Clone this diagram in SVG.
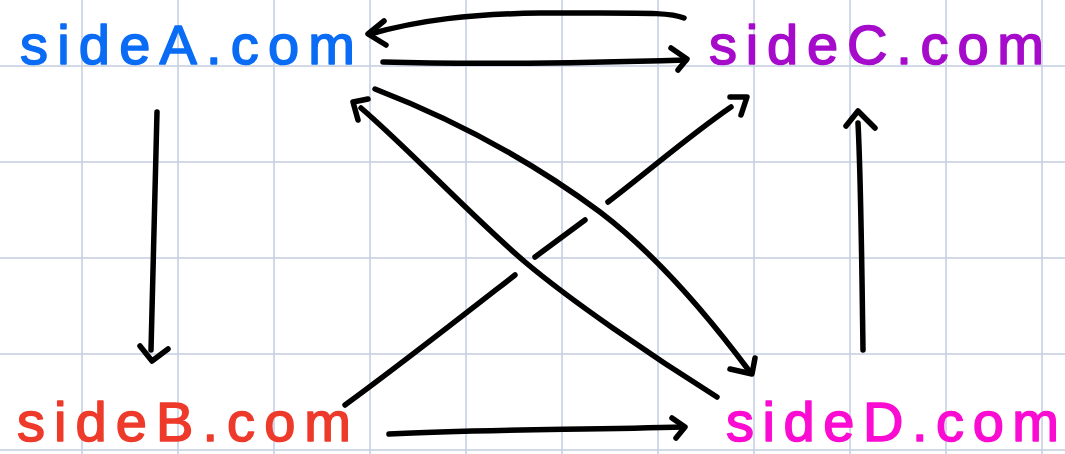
<svg xmlns="http://www.w3.org/2000/svg" width="1065" height="454" viewBox="0 0 1065 454">
<style>
.grid line{stroke:#c3cee2;stroke-width:1.5}
.lbl{font-family:"Liberation Sans","Noto Sans",sans-serif;font-size:56px;stroke-width:1.6;stroke-linejoin:round}
.c path{fill:none;stroke:#000;stroke-width:5.5;stroke-linecap:round;stroke-linejoin:round}
</style>
<rect width="1065" height="454" fill="#fff"/>
<g class="grid">
<line x1="82" y1="0" x2="82" y2="454"/><line x1="178" y1="0" x2="178" y2="454"/><line x1="274" y1="0" x2="274" y2="454"/><line x1="370" y1="0" x2="370" y2="454"/><line x1="466" y1="0" x2="466" y2="454"/><line x1="562" y1="0" x2="562" y2="454"/><line x1="658" y1="0" x2="658" y2="454"/><line x1="754" y1="0" x2="754" y2="454"/><line x1="850" y1="0" x2="850" y2="454"/><line x1="946" y1="0" x2="946" y2="454"/><line x1="1042" y1="0" x2="1042" y2="454"/>
<line x1="0" y1="66" x2="1065" y2="66"/><line x1="0" y1="162" x2="1065" y2="162"/><line x1="0" y1="258" x2="1065" y2="258"/><line x1="0" y1="354" x2="1065" y2="354"/><line x1="0" y1="450" x2="1065" y2="450"/>
</g>
<g id="sideA"><text class="lbl" x="20" y="64" textLength="335" lengthAdjust="spacing" fill="#0a6cf5" stroke="#0a6cf5">sideA.com</text></g>
<g id="sideC"><text class="lbl" x="709" y="64" textLength="335" lengthAdjust="spacing" fill="#a60bcb" stroke="#a60bcb">sideC.com</text></g>
<g id="sideB"><text class="lbl" x="17" y="441" textLength="334" lengthAdjust="spacing" fill="#ee3a2b" stroke="#ee3a2b">sideB.com</text></g>
<g id="sideD"><text class="lbl" x="726" y="441" textLength="333" lengthAdjust="spacing" fill="#fb0cd2" stroke="#fb0cd2">sideD.com</text></g>
<g id="connectors" class="c">
<path d="M684,18 C672,13 650,13 600,13 L540,13 C470,14 420,20 370,34"/>
<path d="M384,21 L368,34 L386,45"/>
<path d="M383,62 C450,64 550,64 686,60"/>
<path d="M671,48 L687,59 L678,70"/>
<path d="M375,89 C450,118 530,160 600,212 C650,250 700,305 750,372"/>
<path d="M730,369 L752,374 L755,358"/>
<path d="M717,397 C650,355 570,300 525,262 C470,215 410,150 361,108"/>
<path d="M358,120 L353,102 L368,99"/>
<path d="M345,405 C400,365 470,310 515,275"/>
<path d="M535,257 L585,220"/>
<path d="M608,202 C650,170 690,135 731,107"/>
<path d="M730,97 L747,97 L741,115"/>
<path d="M157,112 C155,200 153,280 151,350"/>
<path d="M140,346 L152,361 L168,349"/>
<path d="M863,350 C862,280 861,180 858,123"/>
<path d="M846,126 L858,111 L875,128"/>
<path d="M389,434 C480,429 580,430 684,427"/>
<path d="M672,418 L685,427 L676,438"/>
</g>
</svg>
